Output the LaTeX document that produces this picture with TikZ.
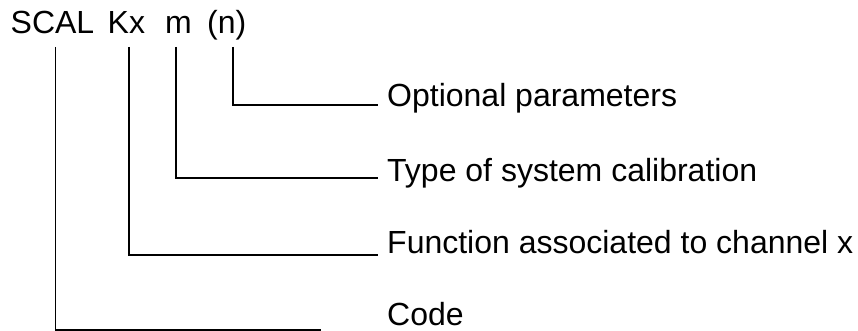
\documentclass[tikz,border=0pt]{standalone}
\usepackage{fontspec}
\setmainfont{Liberation Sans}
\usepackage{tikz}
\tikzstyle{token}=[inner sep = 0pt, anchor = base west, font = \fontsize{32}{38}\selectfont]
\tikzstyle{meaning}=[inner sep = 0pt, anchor = base west, font = \fontsize{32}{38}\selectfont]

\begin{document}
\begin{tikzpicture}[x = 1pt, y = -1pt]
\tikzstyle{link}=[line width = 1.5pt, black]
\useasboundingbox (0, 0) rectangle (858, 331);
\node[token] (scal) at (10.5, 34) {SCAL};
\node[token] (kx) at (107.5, 34) {Kx};
\node[token] (m) at (165, 34) {m};
\node[token] (n) at (207, 34) {(n)};
\node[meaning] (opt) at (387, 107) {Optional parameters};
\node[meaning] (type) at (387, 182) {Type of system calibration};
\node[meaning] (func) at (387, 253) {Function associated to channel x};
\node[meaning] (code) at (387, 325) {Code};
\coordinate (tscal) at (55.7, 47);
\coordinate (tkx) at (129, 47);
\coordinate (tm) at (176, 47);
\coordinate (tn) at (233, 47);
\draw[link] (tn) |- ([xshift = -9pt, yshift = 2pt]opt.base west);
\draw[link] (tm) |- ([xshift = -9pt, yshift = 4pt]type.base west);
\draw[link] (tkx) |- ([xshift = -9pt, yshift = -2pt]func.base west);
\draw[link] (tscal) |- ([xshift = -66pt, yshift = -5pt]code.base west);
\end{tikzpicture}
\end{document}
